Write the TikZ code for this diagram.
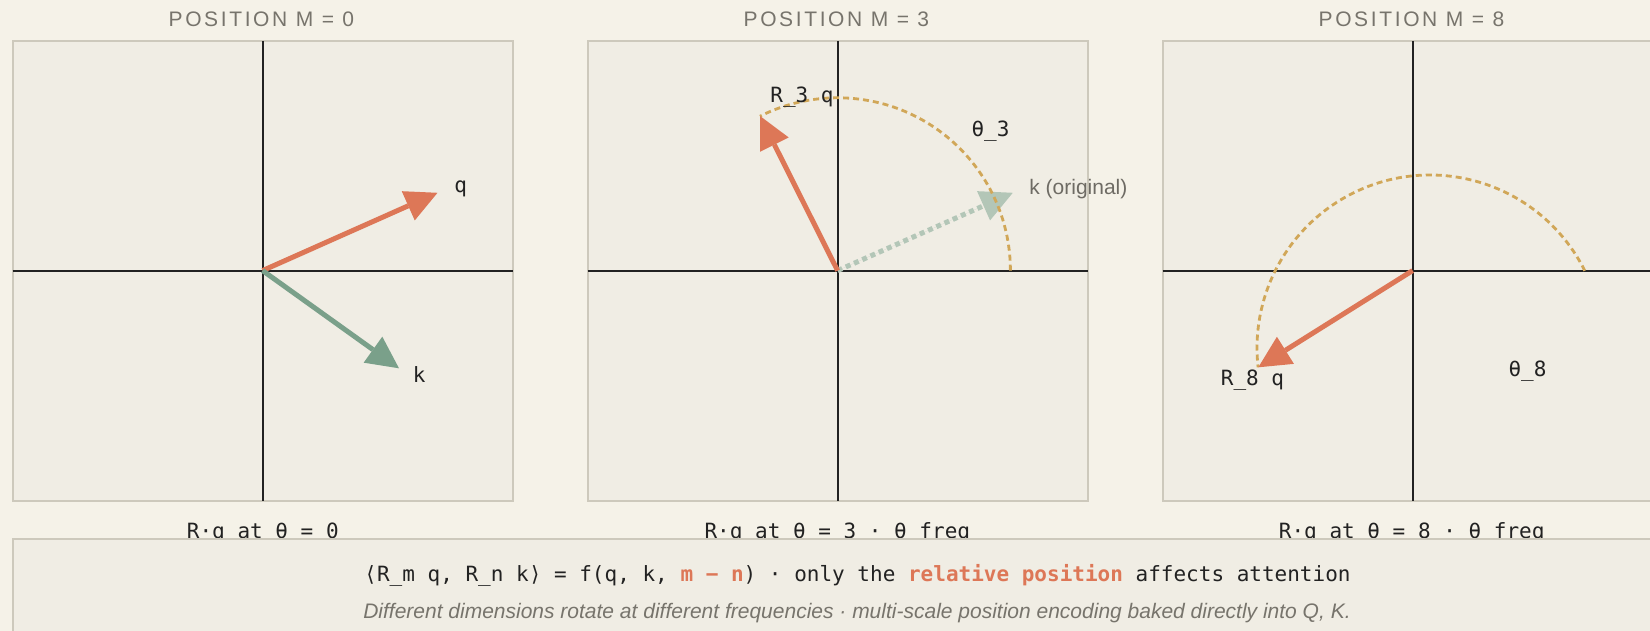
\documentclass[tikz,border=0pt]{standalone}
\usepackage{fontspec}
\setmainfont{Liberation Sans}
\setmonofont{DejaVu Sans Mono}
\newfontfamily\titlefont[LetterSpace=12.5]{Liberation Sans}
\usetikzlibrary{arrows.meta}
\definecolor{bg}{HTML}{F5F2E8}
\definecolor{panelfill}{HTML}{F0EDE4}
\definecolor{panelline}{HTML}{CDC9BC}
\definecolor{boxfill}{HTML}{EDEADF}
\definecolor{titlegray}{HTML}{77746C}
\definecolor{ink}{HTML}{222222}
\definecolor{qorange}{HTML}{DD7757}
\definecolor{kgreen}{HTML}{7AA08A}
\definecolor{kpale}{HTML}{B3C6B7}
\definecolor{gold}{HTML}{D1A758}
\definecolor{notegray}{HTML}{6E6B64}
\begin{document}
\begin{tikzpicture}[x=1pt,y=1pt,
  panel/.style={draw=panelline, fill=panelfill, line width=2pt},
  axisline/.style={draw=ink, line width=2pt},
  vec/.style={line width=5pt, -{Triangle[length=32pt,width=32pt,line width=0pt]}},
  qvec/.style={vec, draw=qorange, fill=qorange},
  kvec/.style={vec, draw=kgreen, fill=kgreen},
  kold/.style={vec, draw=kpale, fill=kpale, dash pattern=on 5pt off 4pt},
  arcline/.style={draw=gold, line width=2.8pt, dash pattern=on 6pt off 4pt},
  titletext/.style={anchor=base, inner sep=0pt, text=titlegray, font=\titlefont\fontsize{21}{25}\selectfont},
  monolabel/.style={anchor=base, inner sep=0pt, text=ink, font=\ttfamily\fontsize{21}{25}\selectfont},
  sanslabel/.style={anchor=base, inner sep=0pt, text=notegray, font=\fontsize{21}{25}\selectfont},
]
\fill[bg] (0,0) rectangle (1650,-631);
\clip (0,0) rectangle (1650,-631);

% panels
\foreach \cx in {262.6, 837.6, 1412.6}{
  \draw[panel] (\cx-250,-40.8) rectangle (\cx+250,-500.8);
  \draw[axisline] (\cx,-40.8) -- (\cx,-500.8);
  \draw[axisline] (\cx-250,-270.6) -- (\cx+250,-270.6);
}

% titles
\node[titletext] (t1) at (261.4,-27) {POSITION M = 0};
\node[titletext] (t2) at (836.4,-27) {POSITION M = 3};
\node[titletext] (t3) at (1411.4,-27) {POSITION M = 8};

% panel 1
\coordinate (O1) at (262.6,-270.6);
\coordinate (q1) at (437.5,-192.8);
\coordinate (k1) at (399,-368.3);
\draw[qvec] (O1) -- (q1);
\draw[kvec] (O1) -- (k1);
\node[monolabel] (lq1) at (460.7,-193) {q};
\node[monolabel] (lk1) at (419.2,-382.7) {k};

% panel 2
\coordinate (O2) at (837.6,-270.6);
\coordinate (q2) at (760,-116);
\coordinate (k2) at (1012.8,-192.8);
\draw[kold] (O2) -- (k2);
\draw[arcline] (O2) ++(172.8,0) arc[start angle=0, end angle=116.7, radius=172.8];
\draw[qvec] (O2) -- (q2);
\node[monolabel] (lq2) at (802,-102.3) {R\_3 q};
\node[monolabel] (lth2) at (990.5,-136.7) {θ\_3};
\node[sanslabel] (lk2) at (1078.4,-195) {k (original)};

% panel 3
\coordinate (O3) at (1412.6,-270.6);
\coordinate (q3) at (1258.3,-367.3);
\coordinate (C3) at (1430,-348);
\draw[arcline] (C3) ++(26.5:173) arc[start angle=26.5, end angle=186.4, radius=173];
\draw[qvec] (O3) -- (q3);
\node[monolabel] (lq3) at (1252.5,-385.7) {R\_8 q};
\node[monolabel] (lth3) at (1527.5,-376) {θ\_8};

% captions
\node[monolabel] (c1) at (262.8,-538.6) {R·q at θ = 0};
\node[monolabel] (c2) at (837.3,-538.6) {R·q at θ = 3 · θ\_freq};
\node[monolabel] (c3) at (1411.7,-538.6) {R·q at θ = 8 · θ\_freq};

% bottom box
\draw[panel] (12.6,-538.5) rectangle (1700,-700);
\node[monolabel] (f1) at (857.5,-581.7) {⟨R\_m q, R\_n k⟩ = f(q, k, {\bfseries\color{qorange}m − n}) · only the {\bfseries\color{qorange}relative position} affects attention};
\node[anchor=base, inner sep=0pt, text=titlegray, font=\itshape\fontsize{21}{25}\selectfont] (f2) at (857,-618.3) {Different dimensions rotate at different frequencies · multi-scale position encoding baked directly into Q, K.};
\end{tikzpicture}
\end{document}
